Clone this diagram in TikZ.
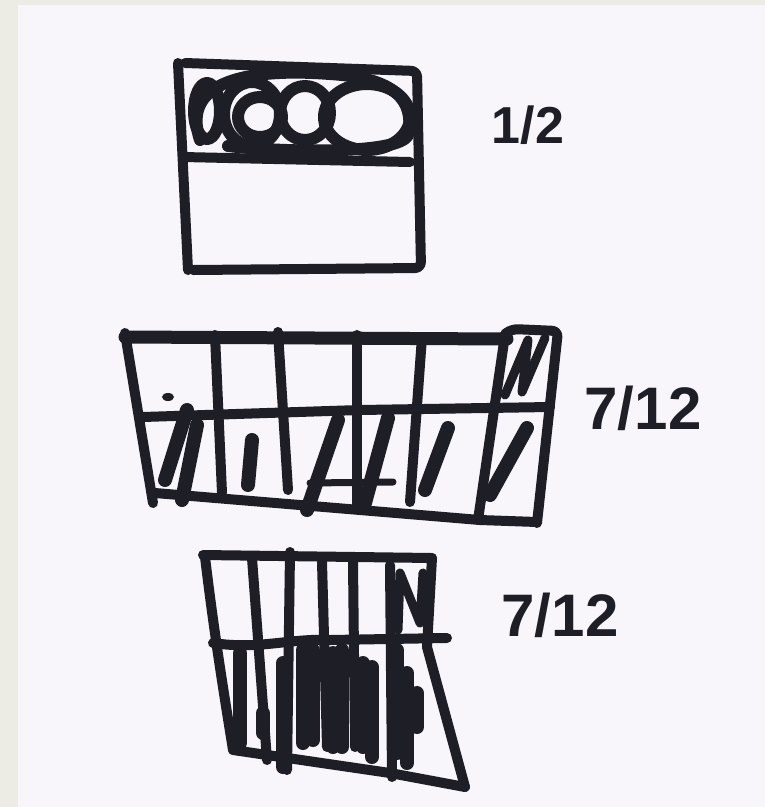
\documentclass[tikz,border=0pt]{standalone}
\usepackage{fontspec}
\setmainfont{Liberation Sans}
\definecolor{paper}{RGB}{248,246,250}
\definecolor{strip}{RGB}{236,236,228}
\definecolor{ink}{RGB}{30,30,38}
\tikzset{
  pen/.style={draw=ink, line width=10pt, line cap=round, line join=round},
  fatpen/.style={draw=ink, line width=14pt, line cap=round},
  frac/.style={text=ink, font=\fontsize{60}{64}\selectfont\bfseries, inner sep=0pt}
}
\begin{document}
\begin{tikzpicture}[x=1pt, y=-1pt]
\fill[strip] (0,0) rectangle (765,807);
\fill[paper] (18,5) rectangle (765,807);
\useasboundingbox (0,0) rectangle (765,807);
% one half
\draw[pen] (178,63) -- (188,270);
\draw[pen, rounded corners=6pt] (185,63) -- (417,71) -- (421,268) -- (193,270);
\draw[pen] (183,157) -- (410,162);
\foreach \cx/\cy/\rx/\ry in {207/111/13/28, 252/114/28/32, 260/117/22/20, 305/113/25/27, 367/117/43/33}
  \draw[pen, line width=12pt] (\cx,\cy) ellipse [x radius=\rx, y radius=\ry];
\draw[pen, line width=12pt] (200,140) .. controls (180,80) and (250,68) .. (330,74) .. controls (395,78) and (415,100) .. (408,135) .. controls (400,155) and (280,152) .. (228,146);
\node[frac, font=\fontsize{52}{56}\selectfont\bfseries] (half) at (528,125) {1/2};
% seven twelfths, wide
\draw[pen] (125,333) -- (153,503);
\draw[pen, line width=13pt] (125,337) -- (507,339);
\draw[pen, rounded corners=6pt] (505,334) -- (512,329) -- (558,331) -- (537,523);
\draw[pen] (155,493) -- (360,510) -- (480,520) -- (537,522);
\draw[pen] (143,417) -- (360,410) -- (550,407);
\foreach \xa/\ya/\xb/\yb in {215/335/222/493, 278/332/288/490, 357/335/357/507, 422/337/410/502, 505/335/478/520}
  \draw[pen] (\xa,\ya) -- (\xb,\yb);
\foreach \xa/\ya/\xb/\yb in {187/410/165/480, 197/425/182/500, 252/440/248/485, 338/420/307/510, 388/418/365/503, 448/428/425/490, 527/428/490/495}
  \draw[fatpen] (\xa,\ya) -- (\xb,\yb);
\draw[pen, line width=7pt] (310,483) -- (393,482);
\draw[pen, line width=9pt] (505,395) -- (528,340) -- (522,392) -- (545,338);
\fill[ink] (168,397) ellipse [x radius=6, y radius=4];
\node[frac] (sevena) at (643,408) {7/12};
% seven twelfths, tall
\draw[pen] (203,555) -- (432,558);
\draw[pen] (205,557) .. controls (215,640) and (225,700) .. (233,750);
\draw[pen] (432,558) -- (427,647) -- (465,787);
\draw[pen] (233,750) -- (390,773) -- (465,787);
\draw[pen] (213,643) .. controls (260,650) and (290,638) .. (330,640) -- (447,638);
\foreach \xa/\ya/\xb/\yb in {252/558/267/760, 290/552/287/770, 322/562/327/747, 353/562/355/747, 390/565/392/777}
  \draw[pen] (\xa,\ya) -- (\xb,\yb);
\foreach \xa/\ya/\xb/\yb in {240/653/240/743, 263/713/263/733, 283/663/283/767, 303/650/303/743, 313/650/313/740, 333/653/333/747, 342/650/342/747, 363/663/363/747, 372/667/372/757, 397/650/397/753, 407/673/407/763, 417/693/417/727}
  \draw[fatpen] (\xa,\ya) -- (\xb,\yb);
\draw[pen, line width=9pt] (398,630) -- (400,573) -- (420,623) -- (423,573);
\node[frac] (sevenb) at (560,615) {7/12};
\end{tikzpicture}
\end{document}
